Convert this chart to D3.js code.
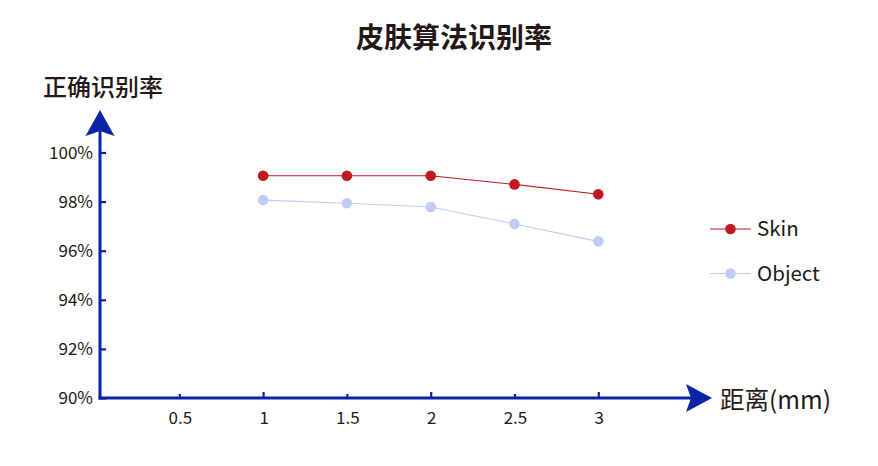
<!DOCTYPE html>
<html><head><meta charset="utf-8">
<script src="https://cdn.jsdelivr.net/npm/d3@7"></script>
<style>html,body{margin:0;padding:0;background:#fff;}svg{display:block;font-family:"Noto Sans CJK SC","Noto Sans",sans-serif;}</style>
</head><body><svg id="c" width="878" height="466"></svg>
<script>
const distances = [1, 1.5, 2, 2.5, 3];
const skin = [99.05, 99.05, 99.05, 98.7, 98.3];
const objectVals = [98.06, 97.93, 97.78, 97.09, 96.38];
const xTicks = [0.5, 1, 1.5, 2, 2.5, 3];
const yTicks = [90, 92, 94, 96, 98, 100];
const seriesNames = ["Skin", "Object"];
const seriesColors = ["#c1191f", "#bfcdf5"];
const title = "皮肤算法识别率";
const yTitle = "正确识别率";
const xTitle = "距离(mm)";

const svg = d3.select("#c");
const axisColor = "#0a24a8";
const textColor = "#231815";

const x = d3.scaleLinear().domain([0.5, 3]).range([179.3, 598.3]);
const y = d3.scaleLinear().domain([90, 100]).range([398, 152.5]);
const x0 = 100;

// title
svg.append("text").attr("x", 454).attr("y", 48).attr("text-anchor", "middle")
  .attr("font-size", 28).attr("font-weight", 700).attr("fill", textColor).text(title);
svg.append("text").attr("x", 43).attr("y", 96).attr("font-size", 24).attr("font-weight", 500)
  .attr("fill", textColor).text(yTitle);
svg.append("text").attr("x", 720).attr("y", 409).attr("font-size", 24.5).attr("font-weight", 400)
  .attr("fill", textColor).text(xTitle);

// y axis
const yAxis = d3.axisRight(y).tickValues(yTicks).tickSize(6).tickFormat("");
const ga = svg.append("g").attr("transform", `translate(${x0},0)`).call(yAxis);
ga.select(".domain").remove();
ga.selectAll(".tick line").attr("stroke", axisColor).attr("stroke-width", 2.2);
yTicks.forEach(v => {
  svg.append("text").attr("x", 93).attr("y", y(v)).attr("dy", "0.36em").attr("text-anchor", "end")
    .attr("font-size", 17).attr("fill", textColor).text(v + "%");
});
svg.append("line").attr("x1", x0).attr("x2", x0).attr("y1", 399.5).attr("y2", 130)
  .attr("stroke", axisColor).attr("stroke-width", 3);
svg.append("path").attr("d", `M${x0},110 L${x0+14.5},136 L${x0},131 L${x0-14.5},136 Z`).attr("fill", axisColor);

// x axis
const xAxis = d3.axisTop(x).tickValues(xTicks).tickSizeInner(0).tickFormat("");
const gx = svg.append("g").attr("transform", "translate(0,398)").call(xAxis);
gx.select(".domain").remove();
gx.selectAll(".tick line").attr("stroke", axisColor).attr("stroke-width", 2.2)
  .attr("y2", d => (d % 1 === 0 ? -6 : -4));
xTicks.forEach(v => {
  svg.append("text").attr("x", x(v) + 1).attr("y", 424).attr("text-anchor", "middle")
    .attr("font-size", 17).attr("fill", textColor).text(v);
});
svg.append("line").attr("x1", 98.5).attr("x2", 695).attr("y1", 398).attr("y2", 398)
  .attr("stroke", axisColor).attr("stroke-width", 3);
svg.append("path").attr("d", `M712,398 L686,384 L691,398 L686,412 Z`).attr("fill", axisColor);

// series
const allSeries = [skin, objectVals];
const line = d3.line().x((d, i) => x(distances[i])).y(d => y(d));
[1, 0].forEach(si => {
  const vals = allSeries[si];
  svg.append("path").attr("d", line(vals)).attr("fill", "none")
    .attr("stroke", seriesColors[si]).attr("stroke-width", 1.1);
  svg.selectAll(null).data(vals).enter().append("circle")
    .attr("cx", (d, i) => x(distances[i])).attr("cy", d => y(d)).attr("r", 5.3)
    .attr("fill", seriesColors[si]);
});

// legend
seriesNames.forEach((n, i) => {
  const ly = 229 + i * 44.5;
  svg.append("line").attr("x1", 710).attr("x2", 751).attr("y1", ly).attr("y2", ly)
    .attr("stroke", seriesColors[i]).attr("stroke-width", 1.1);
  svg.append("circle").attr("cx", 730.5).attr("cy", ly).attr("r", 5.3).attr("fill", seriesColors[i]);
  svg.append("text").attr("x", 757).attr("y", ly).attr("dy", "0.36em").attr("font-size", 20.5)
    .attr("fill", textColor).text(n);
});
</script></body></html>
